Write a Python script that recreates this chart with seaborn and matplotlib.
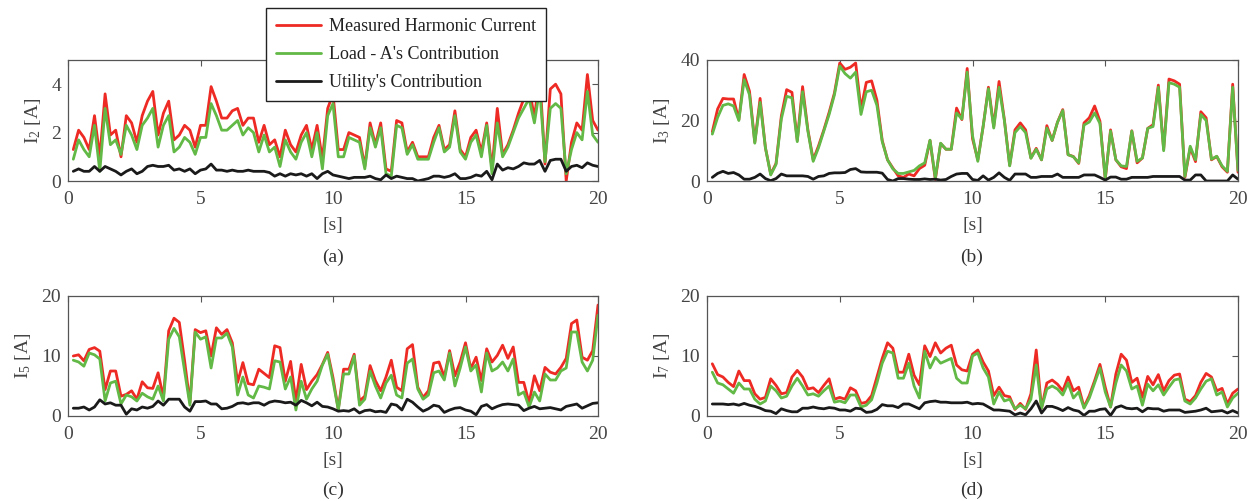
import numpy as np
import pandas as pd
import matplotlib
matplotlib.use("Agg")
import matplotlib.pyplot as plt
from matplotlib.lines import Line2D
import seaborn as sns

# ---------------- data ----------------
t = np.round(np.arange(1, 101) * 0.2, 1)

series_names = ["Measured Harmonic Current", "Load - A's Contribution", "Utility's Contribution"]
series_colors = ["#EE2A24", "#62B946", "#1A1A1A"]

# (a) I2
a_meas = [1.3, 2.1, 1.8, 1.3, 2.7, 1.0, 3.6, 1.9, 2.1, 1.0, 2.7, 2.4, 1.6, 2.7, 3.3, 3.7, 1.9, 2.8, 3.3, 1.7,
          1.9, 2.3, 2.1, 1.4, 2.3, 2.3, 3.9, 3.3, 2.6, 2.6, 2.9, 3.0, 2.3, 2.6, 2.6, 1.6, 2.3, 1.5, 1.7, 1.0,
          2.1, 1.5, 1.2, 1.9, 2.3, 1.3, 2.3, 0.9, 3.0, 3.6,
          1.3, 1.3, 2.0, 1.9, 1.8, 0.6, 2.4, 1.5, 2.4, 0.5, 0.4, 2.5, 2.4, 1.2, 1.6, 1.0, 1.0, 1.0, 1.8, 2.3,
          1.3, 1.5, 2.9, 1.3, 1.0, 1.8, 2.1, 1.2, 2.4, 0.5, 3.0, 1.1, 1.5, 2.1, 2.8, 3.4, 3.9, 2.6, 4.4, 0.7,
          3.8, 4.0, 3.6, 0.0, 1.6, 2.4, 2.1, 4.4, 2.5, 2.1]
a_load = [0.9, 1.7, 1.3, 1.0, 2.3, 0.4, 3.0, 1.5, 1.7, 1.1, 2.3, 1.9, 1.3, 2.3, 2.6, 3.0, 1.4, 2.3, 2.7, 1.2,
          1.4, 1.8, 1.6, 1.1, 1.8, 1.8, 3.2, 2.7, 2.1, 2.1, 2.3, 2.5, 1.9, 2.2, 2.0, 1.2, 1.9, 1.2, 1.4, 0.6,
          1.7, 1.2, 0.9, 1.6, 2.0, 1.0, 2.0, 0.5, 2.7, 3.2,
          1.0, 1.0, 1.8, 1.7, 1.6, 0.5, 2.2, 1.4, 2.2, 0.3, 0.2, 2.3, 2.2, 1.1, 1.5, 0.9, 0.9, 0.9, 1.6, 2.2,
          1.2, 1.4, 2.7, 1.2, 0.9, 1.6, 1.9, 1.0, 2.3, 0.3, 2.4, 1.0, 1.4, 2.0, 2.6, 3.0, 3.4, 2.4, 3.8, 0.8,
          3.0, 3.2, 3.0, 0.3, 1.3, 2.0, 1.7, 3.7, 1.9, 1.6]
a_util = [0.4, 0.5, 0.4, 0.4, 0.6, 0.4, 0.6, 0.5, 0.4, 0.25, 0.4, 0.5, 0.3, 0.4, 0.6, 0.65, 0.6, 0.6, 0.65, 0.45,
          0.5, 0.4, 0.5, 0.3, 0.45, 0.5, 0.7, 0.45, 0.45, 0.4, 0.45, 0.4, 0.4, 0.45, 0.4, 0.4, 0.4, 0.35, 0.2, 0.3,
          0.2, 0.3, 0.25, 0.3, 0.2, 0.3, 0.1, 0.3, 0.4, 0.25,
          0.2, 0.15, 0.1, 0.15, 0.15, 0.15, 0.2, 0.1, 0.05, 0.25, 0.1, 0.2, 0.15, 0.1, 0.1, 0.0, 0.05, 0.1, 0.2, 0.2,
          0.15, 0.2, 0.3, 0.1, 0.1, 0.15, 0.25, 0.2, 0.4, 0.05, 0.7, 0.45, 0.55, 0.5, 0.6, 0.75, 0.7, 0.7, 0.85, 0.4,
          0.85, 0.9, 0.9, 0.4, 0.6, 0.65, 0.55, 0.75, 0.65, 0.6]

# (b) I3
b_meas = [16.3, 23.8, 27.3, 27.1, 27.1, 20.3, 35.2, 29.7, 12.8, 27.3, 11.0, 2.3, 5.8, 21.5, 30.2, 29.3, 13.4, 31.2, 16.9, 7.0,
          11.6, 16.9, 22.7, 29.1, 39.0, 36.9, 37.6, 39.0, 23.8, 32.6, 33.1, 26.7, 13.4, 7.0, 4.3, 1.7, 1.2, 2.3, 1.7, 4.1,
          5.2, 13.4, 0.5, 12.4, 10.5, 10.5, 24.1, 20.3, 37.2, 14.0,
          7.0, 18.0, 31.0, 18.0, 32.9, 20.3, 5.2, 16.9, 19.2, 16.9, 7.6, 10.8, 7.0, 18.3, 13.4, 19.4, 23.6, 8.7, 8.1, 5.8,
          19.2, 20.9, 24.8, 19.8, 0.5, 16.9, 7.0, 4.7, 4.1, 16.6, 6.0, 7.6, 17.4, 18.6, 31.7, 10.5, 33.7, 33.1, 32.0, 1.2,
          11.0, 6.4, 22.9, 20.9, 7.0, 8.1, 4.7, 2.9, 32.0, 2.9]
b_load = [15.5, 21.0, 25.0, 25.5, 24.8, 20.0, 33.5, 28.5, 12.5, 26.0, 11.0, 2.0, 5.5, 20.5, 28.0, 27.5, 13.0, 29.5, 16.5, 6.5,
          11.0, 16.5, 22.0, 28.5, 38.0, 35.5, 34.0, 36.0, 22.0, 29.5, 30.0, 25.0, 13.0, 7.0, 4.0, 2.5, 2.5, 3.0, 3.5, 5.0,
          6.0, 13.5, 1.0, 12.5, 10.5, 10.5, 22.5, 20.5, 36.0, 15.0,
          6.5, 18.0, 30.5, 17.5, 31.0, 20.0, 5.0, 16.0, 18.0, 16.0, 7.5, 10.5, 7.0, 17.5, 13.4, 19.4, 23.3, 8.7, 8.0, 6.0,
          18.5, 19.5, 22.5, 19.0, 1.0, 16.5, 7.0, 5.0, 4.8, 16.5, 6.5, 7.6, 17.4, 18.0, 31.0, 10.0, 32.5, 32.0, 31.0, 1.5,
          11.5, 7.0, 22.0, 20.0, 7.2, 8.2, 5.0, 3.2, 31.0, 3.5]
b_util = [1.2, 2.5, 3.2, 2.5, 2.8, 2.0, 0.6, 0.6, 1.2, 2.3, 0.8, 0.1, 0.8, 2.3, 1.7, 1.7, 1.7, 1.7, 1.5, 0.6,
          1.5, 1.7, 2.5, 2.7, 2.7, 2.8, 3.8, 4.1, 3.0, 2.9, 2.9, 2.9, 2.6, 0.5, 0.0, 0.8, 0.8, 0.6, 0.5, 0.5,
          0.7, 0.5, 0.6, 0.3, 0.5, 1.5, 2.3, 2.5, 2.5, 0.5,
          0.2, 1.7, 0.3, 1.2, 2.7, 1.2, 0.2, 2.3, 2.3, 2.3, 1.2, 1.2, 1.5, 1.5, 1.5, 2.3, 1.2, 1.2, 1.2, 1.2,
          2.0, 2.0, 2.0, 1.2, 0.3, 1.3, 1.3, 0.6, 0.6, 1.2, 1.2, 1.2, 1.2, 1.5, 1.5, 1.5, 1.5, 1.5, 1.5, 0.3,
          0.3, 2.0, 2.0, 0.0, 0.0, 0.0, 0.0, 0.0, 2.0, 0.6]

# (c) I5
c_meas = [10.0, 10.2, 9.2, 11.1, 11.4, 10.8, 4.4, 7.5, 7.5, 3.3, 3.6, 4.2, 2.8, 5.7, 4.7, 4.6, 7.2, 3.1, 14.2, 16.3,
          15.6, 9.2, 2.2, 14.4, 13.9, 14.2, 10.0, 14.7, 13.6, 14.4, 12.2, 5.6, 8.9, 5.4, 5.2, 7.8, 7.1, 6.4, 11.7, 11.4,
          5.8, 9.1, 2.5, 8.6, 4.4, 5.8, 6.9, 8.6, 10.6, 6.4,
          1.1, 7.8, 7.8, 10.3, 2.5, 3.3, 8.4, 5.9, 4.2, 6.5, 9.3, 4.8, 4.2, 11.2, 11.9, 4.8, 3.1, 4.2, 8.8, 9.0,
          6.5, 10.9, 6.7, 9.0, 12.2, 7.9, 9.8, 5.9, 11.2, 9.0, 10.1, 11.8, 9.6, 11.5, 5.6, 5.6, 2.2, 6.7, 4.2, 8.1,
          7.3, 7.0, 8.1, 9.6, 15.4, 16.0, 9.8, 9.3, 10.9, 18.5]
c_load = [9.3, 9.0, 8.3, 10.5, 10.2, 9.5, 2.5, 5.5, 5.8, 2.0, 3.5, 3.2, 2.5, 3.8, 3.2, 2.8, 5.0, 2.5, 12.8, 14.6,
          13.2, 7.5, 1.8, 14.0, 12.8, 13.2, 8.0, 13.0, 13.0, 13.8, 11.5, 3.5, 6.5, 3.5, 3.0, 5.0, 4.8, 4.5, 9.2, 9.0,
          4.5, 6.5, 1.0, 5.8, 2.8, 4.5, 5.8, 8.5, 10.3, 5.8,
          1.0, 7.0, 7.0, 10.0, 1.8, 2.8, 7.5, 5.0, 3.0, 5.5, 6.8, 3.5, 3.0, 8.8, 9.5, 4.5, 2.8, 3.5, 7.2, 7.5,
          6.0, 10.5, 5.0, 8.0, 11.5, 7.5, 8.5, 4.0, 10.5, 7.5, 8.0, 9.0, 7.5, 9.5, 3.5, 4.0, 1.5, 4.0, 2.5, 7.0,
          6.0, 6.0, 7.5, 8.0, 14.0, 14.0, 9.0, 7.5, 9.3, 16.8]
c_util = [1.3, 1.3, 1.5, 1.0, 1.5, 2.7, 2.0, 2.2, 1.8, 1.8, 0.3, 1.2, 1.0, 1.5, 1.3, 1.6, 2.5, 1.8, 2.8, 2.8,
          2.8, 1.5, 0.8, 2.4, 2.4, 2.5, 2.0, 2.0, 1.2, 1.3, 1.6, 2.1, 2.2, 2.0, 2.2, 2.2, 1.8, 2.3, 2.5, 2.4,
          2.2, 2.3, 1.8, 2.6, 2.2, 1.7, 2.3, 1.6, 1.5, 1.2,
          0.8, 0.9, 0.8, 1.2, 0.5, 0.9, 1.0, 0.7, 0.8, 0.6, 2.0, 1.8, 1.0, 2.8, 2.3, 1.5, 0.8, 1.2, 1.8, 1.6,
          0.6, 1.0, 1.3, 1.4, 1.0, 0.8, 0.2, 1.6, 1.9, 1.2, 1.6, 1.9, 2.0, 1.9, 1.8, 0.9, 1.3, 1.6, 1.2, 1.3,
          1.4, 1.2, 1.0, 1.6, 1.8, 2.0, 1.3, 1.7, 2.1, 2.2]

# (d) I7
d_meas = [8.7, 6.9, 6.5, 5.6, 4.9, 7.5, 5.9, 5.9, 3.7, 2.8, 3.1, 6.2, 5.1, 3.7, 3.9, 6.5, 7.6, 6.5, 4.5, 4.7,
          3.9, 5.1, 6.2, 2.8, 3.1, 2.8, 4.7, 4.2, 2.1, 2.3, 3.4, 6.5, 9.6, 12.2, 11.3, 7.3, 7.3, 10.3, 6.8, 5.2,
          11.7, 9.9, 12.2, 10.5, 11.3, 11.8, 8.5, 7.7, 7.5, 10.3,
          11.0, 9.0, 7.5, 3.4, 4.8, 3.4, 3.2, 1.1, 2.1, 1.1, 3.7, 11.0, 1.3, 5.5, 6.0, 5.3, 4.2, 6.5, 4.2, 4.8,
          1.5, 3.4, 5.9, 8.6, 4.8, 1.5, 7.0, 10.3, 9.3, 5.6, 6.3, 3.1, 6.6, 5.2, 6.9, 4.2, 5.9, 6.8, 7.0, 2.8,
          2.4, 3.4, 5.6, 7.1, 6.5, 4.2, 4.6, 2.0, 3.8, 4.5]
d_load = [7.3, 5.5, 5.2, 4.5, 3.8, 5.5, 4.5, 4.5, 2.8, 2.0, 2.5, 5.0, 4.2, 3.0, 3.3, 5.0, 6.3, 5.0, 3.5, 3.7,
          3.3, 4.2, 5.0, 2.3, 2.5, 2.2, 3.5, 3.5, 1.5, 1.8, 2.7, 5.5, 8.8, 10.8, 10.5, 6.3, 6.3, 8.8, 5.0, 3.0,
          10.8, 8.0, 9.8, 8.8, 9.2, 9.6, 6.3, 5.5, 5.5, 10.0,
          10.5, 8.0, 6.5, 2.0, 4.0, 2.5, 2.8, 1.2, 1.8, 1.2, 2.8, 8.5, 1.3, 4.5, 5.0, 4.5, 3.5, 5.5, 3.0, 4.0,
          1.3, 3.0, 5.5, 8.0, 4.0, 1.5, 5.5, 8.5, 7.5, 4.5, 5.0, 1.8, 5.3, 4.2, 5.2, 3.5, 4.8, 6.0, 6.2, 2.5,
          2.0, 3.0, 4.5, 5.8, 6.2, 3.5, 4.0, 1.5, 3.0, 3.8]
d_util = [2.0, 2.0, 2.0, 1.9, 2.0, 1.8, 2.1, 1.8, 1.6, 1.3, 0.9, 0.8, 0.4, 1.2, 0.9, 0.7, 0.7, 1.3, 1.3, 1.5,
          1.3, 1.2, 1.4, 1.3, 1.0, 1.0, 0.8, 1.3, 1.2, 0.6, 0.7, 1.1, 1.9, 1.7, 1.7, 1.4, 2.0, 2.0, 1.6, 1.2,
          2.2, 2.4, 2.5, 2.3, 2.3, 2.2, 2.2, 2.2, 2.3, 2.0,
          2.1, 2.0, 1.5, 1.0, 1.0, 0.9, 0.8, 0.2, 0.5, 0.2, 1.2, 2.5, 0.5, 1.6, 1.6, 1.3, 0.9, 1.4, 1.0, 0.8,
          0.1, 0.8, 0.8, 1.1, 1.2, 0.1, 1.4, 1.7, 1.3, 1.2, 1.3, 0.7, 1.3, 1.2, 1.2, 0.8, 1.0, 1.0, 1.0, 0.6,
          0.7, 0.8, 1.0, 1.3, 0.7, 0.8, 0.9, 0.5, 0.9, 0.5]

x_ticks = [0, 5, 10, 15, 20]

# ---------------- style ----------------
sns.set_theme(style="white")
plt.rcParams["font.family"] = ["Liberation Serif", "DejaVu Serif"]
plt.rcParams["mathtext.fontset"] = "custom"
plt.rcParams["mathtext.rm"] = "Liberation Serif"
plt.rcParams["mathtext.it"] = "Liberation Serif:italic"

TXT = "#444444"
SPINE = "#555555"
FS = 14

fig = plt.figure(figsize=(12.55, 5.01), dpi=100)

W = 1255.0
H = 501.0
def ax_rect(left, right, top, bottom):
    return [left / W, 1 - bottom / H, (right - left) / W, (bottom - top) / H]

panels = [
    (ax_rect(68, 598, 60, 181), a_meas, a_load, a_util, 5, [0, 2, 4], r"I$_2$ [A]", "(a)", 333),
    (ax_rect(707, 1238, 60, 181), b_meas, b_load, b_util, 40, [0, 20, 40], r"I$_3$ [A]", "(b)", 972),
    (ax_rect(68, 598, 296, 416), c_meas, c_load, c_util, 20, [0, 10, 20], r"I$_5$ [A]", "(c)", 333),
    (ax_rect(707, 1238, 296, 416), d_meas, d_load, d_util, 20, [0, 10, 20], r"I$_7$ [A]", "(d)", 972),
]

for rect, meas, load, util, ymax, yt, ylab, cap, capx in panels:
    ax = fig.add_axes(rect)
    df = pd.DataFrame({
        "t": np.concatenate([t, t, t]),
        "val": np.concatenate([meas, load, util]),
        "series": [series_names[0]] * len(t) + [series_names[1]] * len(t) + [series_names[2]] * len(t),
    })
    sns.lineplot(data=df, x="t", y="val", hue="series", hue_order=series_names,
                 palette=series_colors, ax=ax, legend=False, linewidth=2.0, errorbar=None)
    ax.set_xlim(0, 20)
    ax.set_ylim(0, ymax)
    ax.set_xticks(x_ticks)
    ax.set_yticks(yt)
    ax.set_xlabel("[s]", fontsize=FS, color=TXT, labelpad=7)
    ax.set_ylabel(ylab, fontsize=FS, color=TXT, labelpad=6)
    ax.tick_params(direction="in", length=4, width=0.8, colors=SPINE, labelcolor=TXT,
                   labelsize=FS, top=True, right=True)
    ax.tick_params(axis="x", pad=7)
    ax.tick_params(axis="y", pad=5)
    for s in ax.spines.values():
        s.set_visible(True)
        s.set_color(SPINE)
        s.set_linewidth(0.9)
    ax.grid(False)
    capy = 1 - (257 if cap in ("(a)", "(b)") else 490) / H
    fig.text(capx / W, capy, cap, ha="center", va="center", fontsize=FS, color="#333333")

handles = [Line2D([0], [0], color=c, lw=2.0) for c in series_colors]
leg = fig.legend(handles, series_names, loc="upper left", bbox_to_anchor=(266 / W, 1 - 8 / H),
                 fontsize=13, frameon=True, fancybox=False, edgecolor="#222222",
                 handlelength=2.5, handletextpad=0.45, borderpad=0.55, labelspacing=0.62,
                 borderaxespad=0)
leg.get_frame().set_linewidth(1.0)
leg.get_frame().set_facecolor("white")
leg.get_frame().set_alpha(1.0)
for txt in leg.get_texts():
    txt.set_color("#222222")

fig.savefig("out.png", dpi=100)
